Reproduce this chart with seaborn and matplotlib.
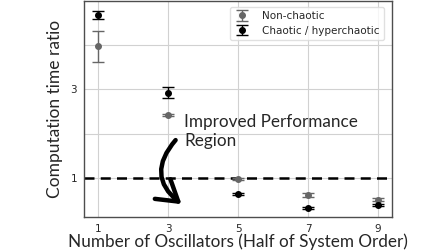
import numpy as np
import matplotlib
matplotlib.use("Agg")
import matplotlib.pyplot as plt
import seaborn as sns
from matplotlib.patches import FancyArrowPatch

# data
oscillators = [1, 3, 5, 7, 9]
nonchaotic_mean = [3.97, 2.42, 0.98, 0.62, 0.51]
nonchaotic_err = [0.35, 0.03, 0.02, 0.04, 0.03]
chaotic_mean = [4.67, 2.92, 0.64, 0.33, 0.39]
chaotic_err = [0.09, 0.12, 0.02, 0.02, 0.03]
ytick_vals = [1, 2, 3, 4]
ytick_labels = ["1", "", "3", ""]

sns.set_style("whitegrid", {"axes.edgecolor": "0.3", "grid.color": "0.82"})
plt.rcParams["font.family"] = ["DejaVu Sans"]

fig = plt.figure(figsize=(4.48, 2.52), dpi=100)
ax = fig.add_axes([0.1875, 0.139, 0.6875, 0.859])

ax.errorbar(oscillators, nonchaotic_mean, yerr=nonchaotic_err, fmt="o",
            color="#666666", ecolor="#666666", markersize=4, capsize=4,
            elinewidth=1, label="Non-chaotic", zorder=3)
ax.errorbar(oscillators, chaotic_mean, yerr=chaotic_err, fmt="o",
            color="black", ecolor="black", markersize=4, capsize=4,
            elinewidth=1, label="Chaotic / hyperchaotic", zorder=4)

ax.axhline(1, color="black", linestyle="--", linewidth=1.8, dashes=(4, 2.5), zorder=2)

ax.set_xlim(0.6, 9.4)
ax.set_ylim(0.12, 5.0)
ax.set_xticks(oscillators)
ax.set_yticks(ytick_vals, ytick_labels)
ax.tick_params(axis="both", labelsize=7.5, length=3, width=0.8, color="0.3", pad=2)
for s in ax.spines.values():
    s.set_linewidth(1.0)

ax.set_xlabel("Number of Oscillators (Half of System Order)", fontsize=12.3,
              family="Lato", labelpad=0)
ax.set_ylabel("Computation time ratio", fontsize=12.5, family="Lato", labelpad=5)

# annotation
ax.text(3.47, 2.44, "Improved Performance\nRegion", fontsize=12.3, family="Lato",
        ha="left", va="top", linespacing=1.2)
arrow = FancyArrowPatch((3.27, 1.9), (3.45, 0.37),
                        connectionstyle="arc3,rad=0.55",
                        arrowstyle="->,head_length=8,head_width=5",
                        color="black", linewidth=3.2, mutation_scale=1.8, zorder=5)
ax.add_patch(arrow)

leg = ax.legend(loc="upper right", fontsize=7.5, frameon=True, borderpad=0.4,
                handlelength=1.5, handletextpad=1.2, labelspacing=0.45,
                bbox_to_anchor=(0.99, 0.995))
leg.get_frame().set_edgecolor("0.85")

fig.savefig("out.png", dpi=100)
